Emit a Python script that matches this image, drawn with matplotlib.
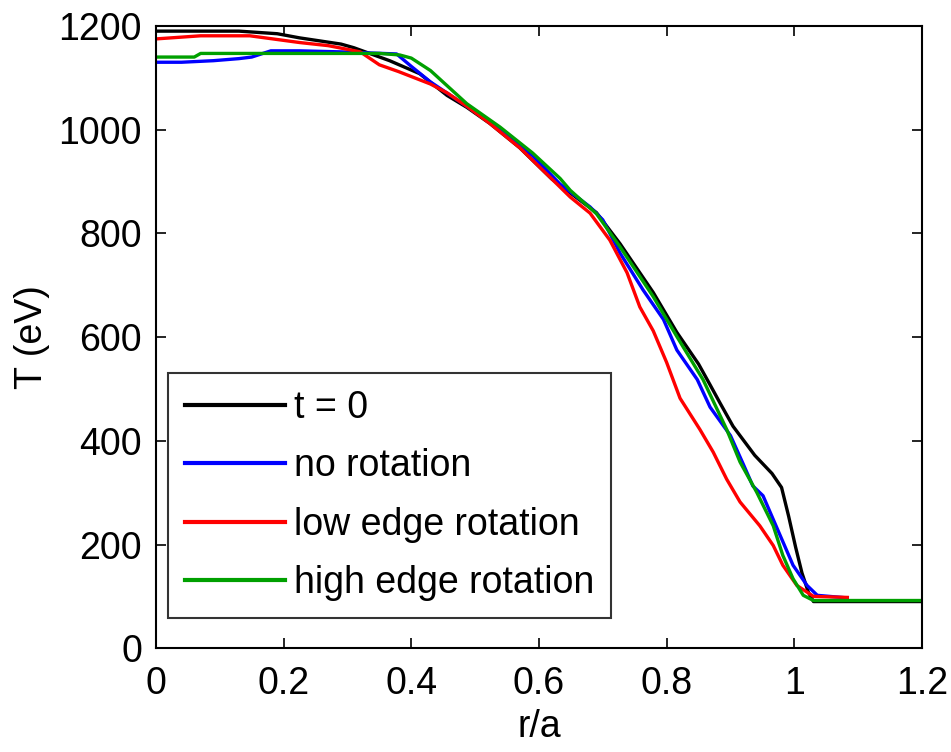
import numpy as np
import matplotlib
matplotlib.use("Agg")
import matplotlib.pyplot as plt

plt.rcParams['font.family'] = ['Liberation Sans', 'DejaVu Sans']

# t = 0
x_t0 = [0, 0.13, 0.19, 0.225, 0.29, 0.31, 0.366, 0.413, 0.456, 0.487, 0.523, 0.57,
        0.62, 0.69, 0.727, 0.779, 0.816, 0.85, 0.868, 0.884, 0.904, 0.938, 0.965,
        0.98, 0.991, 1.002, 1.012, 1.022, 1.03, 1.2]
T_t0 = [1190, 1190, 1185, 1177, 1165, 1158, 1133, 1108, 1066, 1043, 1012, 965,
        905, 840, 780, 686, 609, 548, 508, 472, 428, 372, 337,
        310, 255, 195, 145, 108, 90, 90]

# no rotation
x_no = [0, 0.04, 0.09, 0.13, 0.15, 0.18, 0.225, 0.29, 0.377, 0.40, 0.43, 0.487,
        0.54, 0.59, 0.633, 0.68, 0.70, 0.727, 0.763, 0.795, 0.816, 0.848, 0.868,
        0.90, 0.92, 0.935, 0.951, 0.978, 0.998, 1.02, 1.036, 1.083]
T_no = [1130, 1130, 1133, 1137, 1140, 1152, 1152, 1150, 1146, 1122, 1092, 1045,
        1000, 950, 895, 851, 826, 762, 691, 634, 575, 518, 465,
        410, 355, 313, 294, 217, 160, 121, 102, 97]

# low edge rotation
x_low = [0, 0.07, 0.147, 0.225, 0.27, 0.32, 0.35, 0.38, 0.43, 0.456, 0.487, 0.523,
         0.57, 0.62, 0.649, 0.68, 0.711, 0.738, 0.758, 0.779, 0.80, 0.821, 0.852,
         0.873, 0.894, 0.915, 0.946, 0.967, 0.982, 1.004, 1.03, 1.083]
T_low = [1175, 1181, 1181, 1168, 1162, 1150, 1125, 1112, 1088, 1071, 1045, 1012,
         965, 905, 870, 839, 787, 724, 658, 612, 551, 482, 422,
         378, 326, 282, 236, 198, 160, 121, 100, 98]

# high edge rotation
x_high = [0, 0.06, 0.07, 0.35, 0.382, 0.40, 0.43, 0.487, 0.539, 0.59, 0.633, 0.649,
          0.69, 0.727, 0.779, 0.816, 0.857, 0.894, 0.915, 0.941, 0.967, 0.982,
          0.998, 1.014, 1.03, 1.2]
T_high = [1140, 1140, 1147, 1147, 1144, 1138, 1114, 1050, 1005, 955, 906, 883,
          838, 774, 678, 601, 518, 422, 359, 301, 236, 179,
          134, 102, 92, 92]

labels = ['t = 0', 'no rotation', 'low edge rotation', 'high edge rotation']
colors = ['black', '#0000ff', '#ff0000', '#00a000']

fig = plt.figure(figsize=(9.51, 7.52), dpi=100)
ax = fig.add_axes([0.164, 0.138, 0.8055, 0.8275])

series = [(x_t0, T_t0), (x_no, T_no), (x_low, T_low), (x_high, T_high)]
for (xs, ts), lab, c in zip(series, labels, colors):
    ax.plot(xs, ts, color=c, lw=2.4, label=lab)

ax.set_xlim(0, 1.2)
ax.set_ylim(0, 1200)
ax.set_xticks(np.arange(0, 1.21, 0.2))
ax.set_xticklabels(['0', '0.2', '0.4', '0.6', '0.8', '1', '1.2'])
ax.set_yticks(np.arange(0, 1201, 200))
ax.tick_params(direction='in', length=7, width=1.2, labelsize=27,
               top=True, right=True)
ax.tick_params(axis='x', pad=13)
ax.tick_params(axis='y', pad=10)
for sp in ax.spines.values():
    sp.set_linewidth(1.5)

ax.set_xlabel('r/a', fontsize=27, labelpad=5)
ax.set_ylabel('T (eV)', fontsize=27, labelpad=6)

leg = ax.legend(loc='lower left', bbox_to_anchor=(0.0157, 0.048), fontsize=27,
                frameon=True, fancybox=False, edgecolor='black',
                handlelength=2.67, handletextpad=0.25, labelspacing=0.6,
                borderpad=0.45, borderaxespad=0)
leg.get_frame().set_linewidth(1.5)
for line in leg.get_lines():
    line.set_linewidth(3)

fig.savefig('out.png', dpi=100)
